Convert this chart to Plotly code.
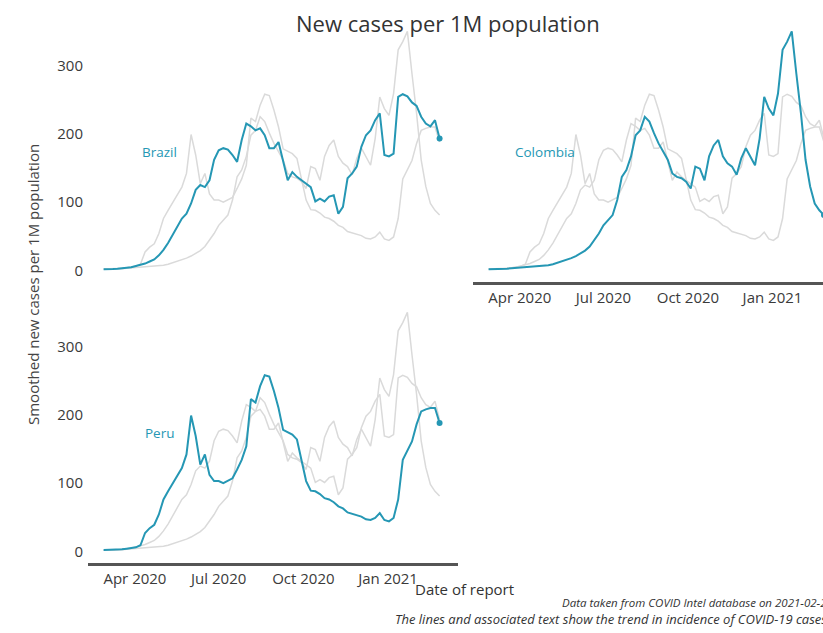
import pandas as pd
import plotly.graph_objects as go

# 7-day smoothed new cases per 1M population, sampled every 5 days
dates = pd.date_range("2020-02-27", periods=74, freq="5D")

brazil = [1.6, 1.5, 2, 2.5, 3, 3.5, 4.5, 6.4, 8, 10,
          13, 16, 22, 30, 40, 52, 64, 76, 83, 98,
          118, 125, 122, 132, 162, 176, 179, 177, 169, 159,
          191, 215, 211, 205, 208, 198, 179, 179, 188, 162,
          132, 144, 137, 132, 127, 122, 101, 105, 101, 108,
          110, 83, 93, 135, 142, 152, 181, 198, 205, 220,
          230, 169, 167, 171, 254, 258, 255, 246, 241, 225,
          215, 211, 220, 193]

colombia = [1.6, 1.6, 2, 2.5, 2.5, 3, 3.5, 3.5, 4, 4.5,
            5, 5.5, 6.4, 7.4, 9, 11, 13, 15, 18, 21,
            25, 29, 35, 44, 54, 66, 74, 81, 103, 137,
            147, 167, 198, 205, 225, 218, 201, 186, 174, 162,
            142, 137, 135, 130, 120, 152, 149, 132, 167, 183,
            191, 167, 157, 152, 140, 164, 179, 167, 154, 193,
            254, 237, 227, 259, 323, 335, 350, 288, 230, 162,
            123, 98, 88, 81]

peru = [2, 2, 2.5, 3, 3, 4, 4.5, 6, 9, 27,
        34, 39, 54, 76, 88, 100, 112, 122, 142, 199,
        169, 127, 142, 112, 103, 103, 100, 103, 107, 120,
        134, 154, 223, 218, 242, 258, 256, 235, 210, 178,
        174, 171, 164, 134, 103, 89, 88, 84, 78, 76,
        72, 66, 63, 57, 55, 54, 51, 47, 46, 49,
        56, 46, 44, 49, 76, 134, 147, 161, 186, 205,
        208, 210, 210, 188]

countries = ["Brazil", "Colombia", "Peru"]
series = {"Brazil": brazil, "Colombia": colombia, "Peru": peru}

tick_dates = ["2020-04-01", "2020-07-01", "2020-10-01", "2021-01-01"]
tick_text = ["Apr 2020", "Jul 2020", "Oct 2020", "Jan 2021"]
y_ticks = [0, 100, 200, 300]

TEAL = "#2597b4"
GREY = "#dadada"
FONT = "Open Sans"
W, H = 823, 633

fig = go.Figure()
axis_ids = {"Brazil": ("x", "y"), "Colombia": ("x2", "y2"), "Peru": ("x3", "y3")}

for name in countries:
    xa, ya = axis_ids[name]
    for other in countries:
        if other == name:
            continue
        fig.add_trace(go.Scatter(x=dates, y=series[other], mode="lines",
                                 line=dict(color=GREY, width=1.5),
                                 xaxis=xa, yaxis=ya, showlegend=False,
                                 hoverinfo="skip"))
    fig.add_trace(go.Scatter(x=dates, y=series[name], mode="lines",
                             line=dict(color=TEAL, width=2),
                             xaxis=xa, yaxis=ya, showlegend=False, name=name))
    fig.add_trace(go.Scatter(x=[dates[-1]], y=[series[name][-1]], mode="markers",
                             marker=dict(color=TEAL, size=6),
                             xaxis=xa, yaxis=ya, showlegend=False))
    fig.add_annotation(x="2020-04-28", y=173, xref=xa, yref=ya, text=name,
                       showarrow=False, font=dict(family=FONT, size=13.5, color=TEAL))


def px_x(a, b):
    return [a / W, min(b / W, 1.0)]


def px_y(top, bottom):
    return [1 - bottom / H, 1 - top / H]


y_range = [-17, 355]
full_range = ["2020-02-10", "2021-03-18"]
tickfont = dict(family=FONT, size=15, color="#3a3a3a")

yaxis_common = dict(range=y_range, showgrid=False, zeroline=False, showline=False,
                    ticks="", tickvals=y_ticks, tickfont=tickfont,
                    ticklabelstandoff=4)
xaxis_common = dict(showgrid=False, zeroline=False, showline=True,
                    linecolor="#555555", linewidth=2.5, ticks="",
                    tickvals=tick_dates, ticktext=tick_text, tickfont=tickfont)

fig.update_layout(
    width=W, height=H,
    margin=dict(l=0, r=0, t=0, b=0),
    paper_bgcolor="white", plot_bgcolor="white",
    xaxis=dict(domain=px_x(88, 458), range=full_range, visible=False, anchor="y"),
    yaxis=dict(domain=px_y(28, 282), anchor="x", **yaxis_common),
    xaxis2=dict(domain=px_x(473, 823), range=["2020-02-10", "2021-02-25"],
                anchor="y2", **xaxis_common),
    yaxis2=dict(domain=px_y(28, 282), anchor="x2",
                **{**yaxis_common, "showticklabels": False}),
    xaxis3=dict(domain=px_x(88, 458), range=full_range, anchor="y3", **xaxis_common),
    yaxis3=dict(domain=px_y(309, 563), anchor="x3", **yaxis_common),
)


def paper_note(x, y, text, size, color, xanchor="center", angle=0):
    fig.add_annotation(x=x / W, y=1 - y / H, xref="paper", yref="paper",
                       xanchor=xanchor, yanchor="middle", textangle=angle,
                       text=text, showarrow=False,
                       font=dict(family=FONT, size=size, color=color))


paper_note(448, 23, "New cases per 1M population", 22, "#333333")
paper_note(33, 285, "Smoothed new cases per 1M population", 15, "#444444", angle=-90)
paper_note(413, 589, "Date of report", 15, "#333333", xanchor="left")
paper_note(560, 602, "<i>Data taken from COVID Intel database on 2021-02-28</i>",
           11.5, "#333333", xanchor="left")
paper_note(393, 619,
           "<i>The lines and associated text show the trend in incidence of COVID-19 cases</i>",
           13, "#333333", xanchor="left")

fig.write_html("out.html")
